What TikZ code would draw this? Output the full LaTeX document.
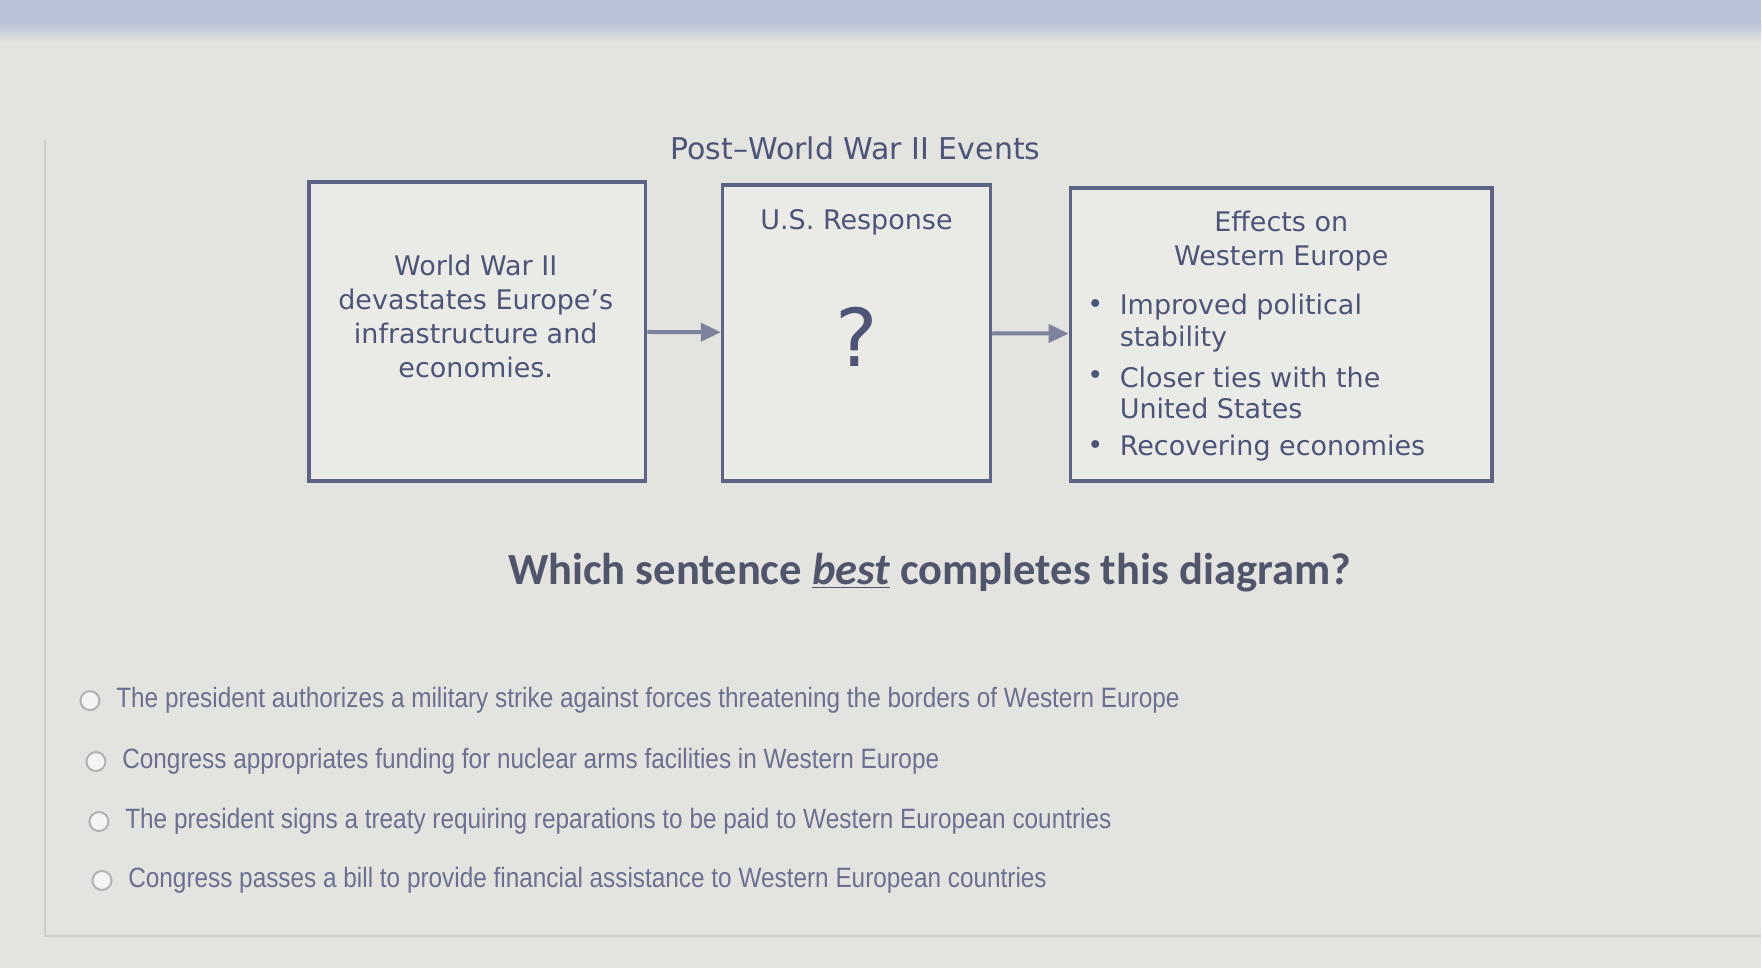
\documentclass[tikz,border=0pt]{standalone}
\usepackage{fontspec}
\setmainfont{DejaVu Sans}
\newfontfamily\qfont{Carlito}
\newfontfamily\optfont[FakeStretch=0.87]{Liberation Sans}
\usetikzlibrary{arrows.meta}

\definecolor{bg}{HTML}{E3E3DF}
\definecolor{band}{HTML}{B8C1D6}
\definecolor{boxfill}{HTML}{EAEAE6}
\definecolor{frame}{HTML}{5C6385}
\definecolor{ink}{HTML}{4D5478}
\definecolor{qink}{HTML}{50556B}
\definecolor{optink}{HTML}{6B7090}
\definecolor{faint}{HTML}{CFCFCA}

\tikzset{
	Box/.style 2 args={draw=frame, line width=1.8pt, fill=boxfill,
		minimum width=#1, minimum height=#2, inner sep=0pt},
	Txt/.style={text=ink, font=\fontsize{13.5}{17}\selectfont, align=center, inner sep=0pt},
	Arrow/.style={draw=frame!80, line width=2pt, -{Triangle[length=10pt,width=9pt]}},
	Opt/.style={text=optink, font=\optfont\fontsize{14}{16}\selectfont, anchor=west, inner sep=0pt},
	Radio/.style={draw=gray!60, fill=white!60!bg, line width=1pt, circle, minimum size=9.5pt, inner sep=0pt}
}

\begin{document}
\begin{tikzpicture}[x=0.5pt,y=-0.5pt]
	% page
	\fill[bg] (0,0) rectangle (1762,969);
	\fill[band] (0,0) rectangle (1762,22);
	\shade[top color=band, bottom color=bg] (0,22) rectangle (1762,42);
	\draw[faint, line width=1pt] (45,140) -- (45,937) -- (1762,937);

	% diagram
	\node[Txt, font=\fontsize{15}{18}\selectfont] (title) at (856,148) {Post–World War II Events};
	\node[Box={168.5pt}{149.5pt}] (A) at (477.5,331.5) {};
	\node[Box={134pt}{148pt}] (B) at (857,333) {};
	\node[Box={211pt}{146.5pt}] (C) at (1282,334.5) {};
	\draw[Arrow] (A) -- (B);
	\draw[Arrow] (B) -- (C);

	\node[Txt] (cause) at (476,317) {World War II\\devastates Europe's\\infrastructure and\\economies.};
	\node[Txt] (resp) at (857,222) {U.S. Response};
	\node[Txt, font=\fontsize{40}{40}\selectfont] (qmark) at (857,337) {?};
	\node[Txt] (eff) at (1282,241) {Effects on\\Western Europe};
	\foreach \y/\b/\t in {307/1/Improved political, 339/0/stability,
		378/1/Closer ties with the, 409/0/United States, 448/1/Recovering economies}{
		\node[Txt, anchor=west] at (1120,\y) {\t};
		\ifnum\b=1 \node[Txt] at (1096,\y) {•}; \fi
	}

	% question
	\node[text=qink, font=\qfont\bfseries\fontsize{22.3}{26}\selectfont, inner sep=0pt] (q) at (930,573)
		{Which sentence \underline{\itshape best} completes this diagram?};
	\foreach \n/\x/\y/\t in {
		1/90/701/The president authorizes a military strike against forces threatening the borders of Western Europe,
		2/96/762/Congress appropriates funding for nuclear arms facilities in Western Europe,
		3/99/822/The president signs a treaty requiring reparations to be paid to Western European countries,
		4/102/881/Congress passes a bill to provide financial assistance to Western European countries}{
		\node[Radio] (r\n) at (\x,\y) {};
		\node[Opt] (o\n) at ([xshift=13pt]r\n.center) {\t};
	}
\end{tikzpicture}
\end{document}
